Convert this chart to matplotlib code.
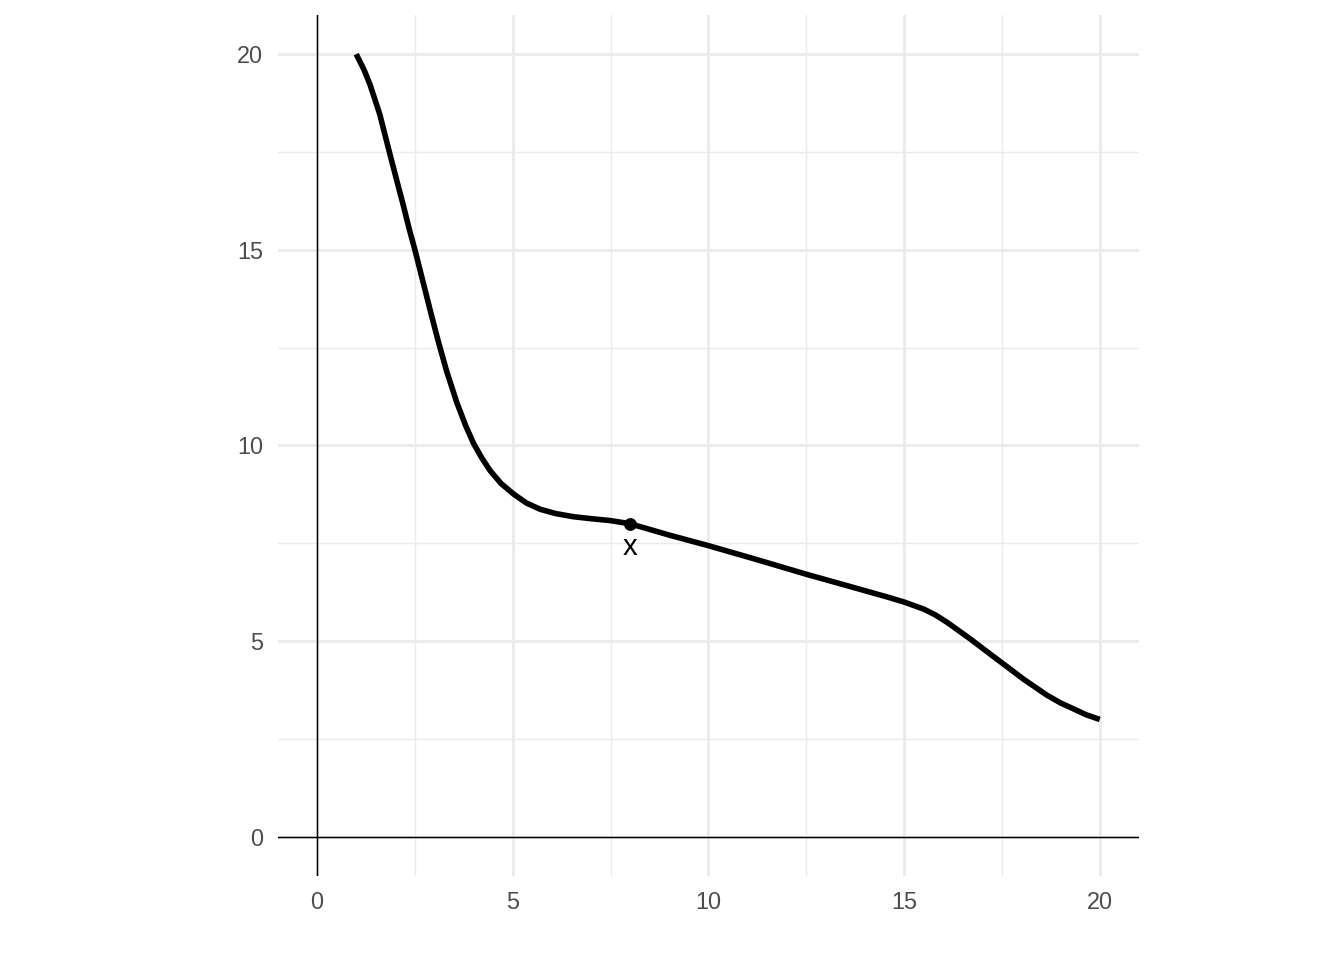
import matplotlib.pyplot as plt
from matplotlib.ticker import MultipleLocator

# curve
curve_x = [1.0, 1.2, 1.35, 1.6, 1.85, 2.05, 2.2, 2.35, 2.5, 2.72, 2.93, 3.1, 3.31,
           3.57, 3.8, 4.0, 4.21, 4.42, 4.7, 5.02, 5.35, 5.7, 6.1, 6.55, 7.0, 7.5,
           8.0, 9.0, 10.0, 11.25, 12.5, 13.75, 14.6, 15.0, 15.5, 15.8, 16.1, 16.7,
           17.2, 17.52, 18.05, 18.65, 19.0, 19.33, 19.65, 20.0]
curve_y = [20.0, 19.6, 19.23, 18.47, 17.49, 16.72, 16.15, 15.55, 15.0, 14.13, 13.3,
           12.65, 11.9, 11.1, 10.5, 10.05, 9.68, 9.36, 9.03, 8.76, 8.53, 8.37, 8.26,
           8.18, 8.13, 8.08, 8.0, 7.71, 7.44, 7.08, 6.71, 6.36, 6.12, 6.0, 5.82,
           5.67, 5.48, 5.05, 4.67, 4.43, 4.03, 3.62, 3.42, 3.27, 3.12, 3.0]

point_x = [8]
point_y = [8]
point_label = "x"

x_ticks = [0, 5, 10, 15, 20]
y_ticks = [0, 5, 10, 15, 20]

plt.rcParams['font.family'] = ['Liberation Sans', 'DejaVu Sans']

fig = plt.figure(figsize=(7, 5), dpi=192)
ax = fig.add_axes([0.2068, 0.0875, 0.6406, 0.8969])

ax.set_xlim(-1, 21)
ax.set_ylim(-1, 21)
ax.set_aspect('equal')

ax.set_xticks(x_ticks)
ax.set_yticks(y_ticks)
ax.xaxis.set_minor_locator(MultipleLocator(2.5))
ax.yaxis.set_minor_locator(MultipleLocator(2.5))
ax.grid(which='major', color='#EBEBEB', linewidth=1.07)
ax.grid(which='minor', color='#EBEBEB', linewidth=0.53)
ax.set_axisbelow(True)
ax.tick_params(which='both', length=0, labelsize=8.8, labelcolor='#4D4D4D', pad=5.5)
for s in ax.spines.values():
    s.set_visible(False)

ax.axhline(0, color='black', linewidth=0.55)
ax.axvline(0, color='black', linewidth=0.55)

ax.plot(curve_x, curve_y, color='black', linewidth=2.1, solid_capstyle='butt',
        solid_joinstyle='round')
ax.plot(point_x, point_y, 'o', color='black', markersize=3.8)
ax.text(point_x[0], point_y[0] - 0.8, point_label, ha='center', va='baseline',
        fontsize=11, color='black')

plt.savefig('out.png', dpi=192)
plt.close()
